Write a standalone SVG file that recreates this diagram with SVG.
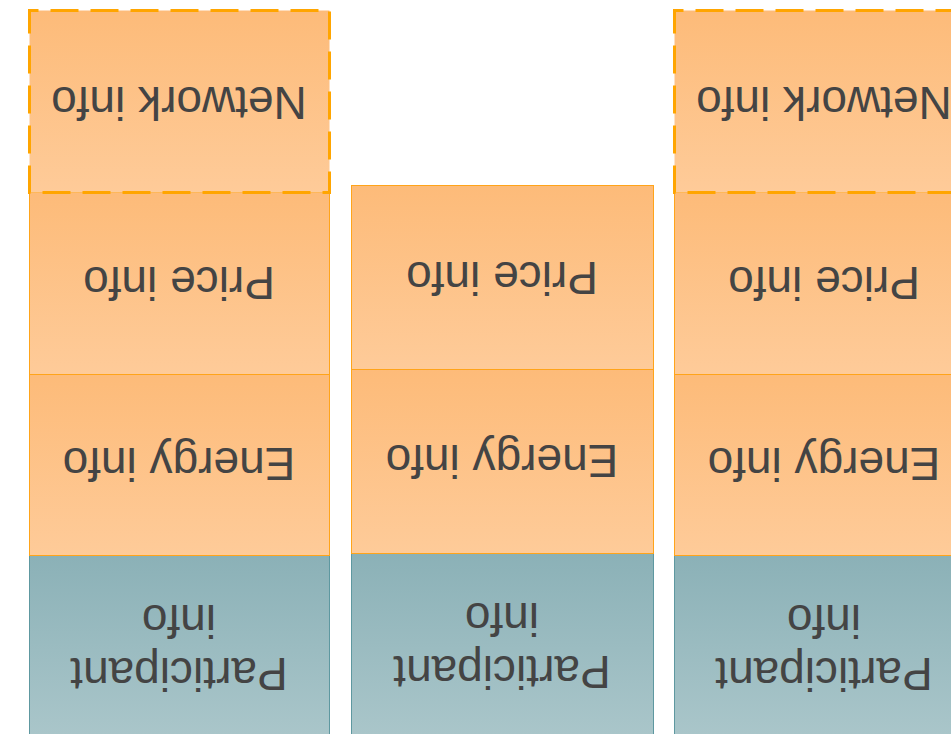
<svg xmlns="http://www.w3.org/2000/svg" width="951" height="734" viewBox="0 0 951 734">
<defs>
<linearGradient id="gO" x1="0" y1="0" x2="0" y2="1">
<stop offset="0" stop-color="#FDBB79"/>
<stop offset="1" stop-color="#FECB99"/>
</linearGradient>
<linearGradient id="gT" x1="0" y1="0" x2="0" y2="1">
<stop offset="0" stop-color="#8BB1B7"/>
<stop offset="1" stop-color="#AAC6CA"/>
</linearGradient>
</defs>
<style>
.o{fill:url(#gO);stroke:#FFA41A;stroke-width:1}
.t{fill:url(#gT);stroke:#5E98A0;stroke-width:1}
.d{fill:url(#gO);stroke:#FFA500;stroke-width:3;stroke-dasharray:28 12;stroke-dashoffset:19}
text{font-family:"Liberation Sans",Arial,sans-serif;font-size:46px;fill:#444444;text-anchor:middle}
</style>
<rect width="951" height="734" fill="#ffffff"/>
<g id="connectors"></g>
<g id="col1">
<g id="c1-participant"><rect class="t" x="29.5" y="555.5" width="300" height="182"/>
<text x="179" y="658" transform="rotate(180 179 658)">Participant</text>
<text x="179" y="605" transform="rotate(180 179 605)">info</text></g>
<g id="c1-energy"><rect class="o" x="29.5" y="374.5" width="300" height="181"/>
<text x="179" y="448" transform="rotate(180 179 448)">Energy info</text></g>
<g id="c1-price"><rect class="o" x="29.5" y="192.5" width="300" height="182"/>
<text x="179" y="267" transform="rotate(180 179 267)">Price info</text></g>
<g id="c1-network"><rect class="d" x="29.5" y="10.5" width="300" height="182"/>
<text x="179" y="87" transform="rotate(180 179 87)">Network info</text></g>
</g>
<g id="col2">
<g id="c2-participant"><rect class="t" x="351.5" y="553.5" width="302" height="184"/>
<text x="502" y="656" transform="rotate(180 502 656)">Participant</text>
<text x="502" y="603" transform="rotate(180 502 603)">info</text></g>
<g id="c2-energy"><rect class="o" x="351.5" y="369.5" width="302" height="184"/>
<text x="502" y="445" transform="rotate(180 502 445)">Energy info</text></g>
<g id="c2-price"><rect class="o" x="351.5" y="185.5" width="302" height="184"/>
<text x="502" y="262" transform="rotate(180 502 262)">Price info</text></g>
</g>
<g id="col3">
<g id="c3-participant"><rect class="t" x="674.5" y="555.5" width="300" height="182"/>
<text x="824" y="658" transform="rotate(180 824 658)">Participant</text>
<text x="824" y="605" transform="rotate(180 824 605)">info</text></g>
<g id="c3-energy"><rect class="o" x="674.5" y="374.5" width="300" height="181"/>
<text x="824" y="448" transform="rotate(180 824 448)">Energy info</text></g>
<g id="c3-price"><rect class="o" x="674.5" y="192.5" width="300" height="182"/>
<text x="824" y="267" transform="rotate(180 824 267)">Price info</text></g>
<g id="c3-network"><rect class="d" x="674.5" y="10.5" width="300" height="182"/>
<text x="824" y="87" transform="rotate(180 824 87)">Network info</text></g>
</g>
</svg>
